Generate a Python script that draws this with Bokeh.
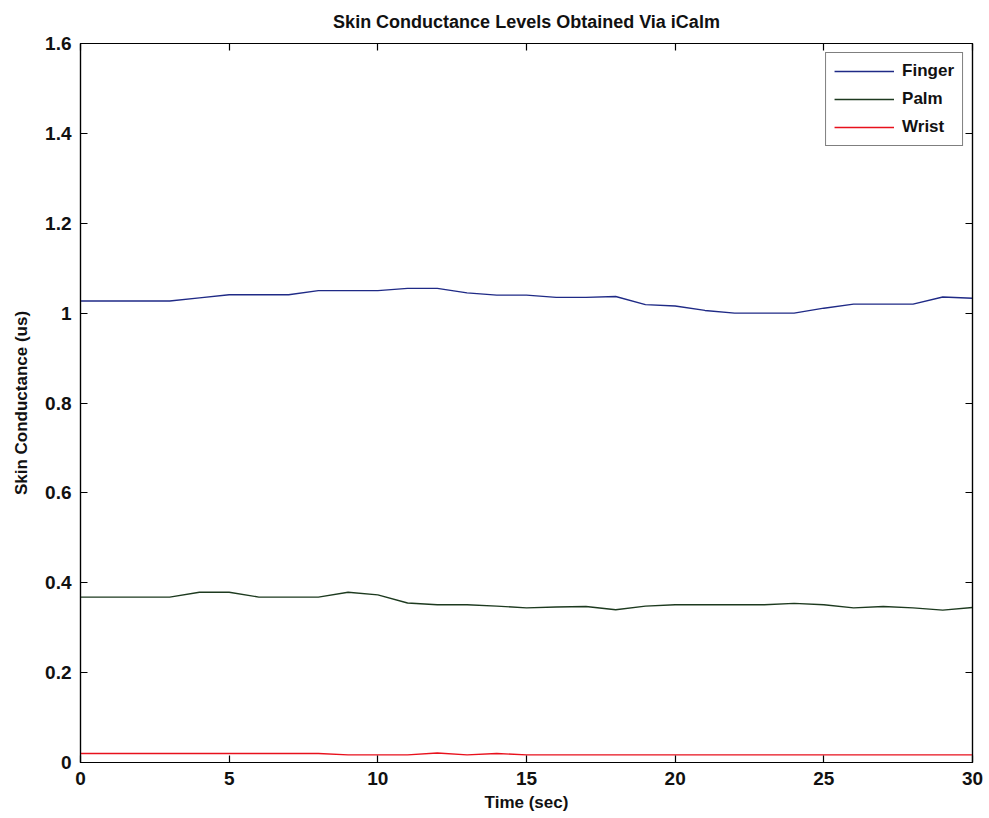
from bokeh.plotting import figure
from bokeh.models import Range1d, FixedTicker, LinearAxis, Legend, LegendItem
from bokeh.embed import file_html
from bokeh.resources import INLINE

# Skin conductance samples, one per second
time_sec = list(range(0, 31))
finger = [1.027, 1.027, 1.027, 1.027, 1.034, 1.041, 1.041, 1.041, 1.050, 1.050,
          1.050, 1.055, 1.055, 1.045, 1.040, 1.040, 1.035, 1.035, 1.037, 1.019,
          1.016, 1.006, 1.000, 1.000, 1.000, 1.011, 1.020, 1.020, 1.020, 1.036,
          1.033]
palm = [0.368, 0.368, 0.368, 0.368, 0.379, 0.379, 0.368, 0.368, 0.368, 0.379,
        0.373, 0.355, 0.351, 0.351, 0.348, 0.344, 0.346, 0.347, 0.340, 0.348,
        0.351, 0.351, 0.351, 0.351, 0.354, 0.351, 0.344, 0.347, 0.344, 0.339,
        0.345]
wrist = [0.020, 0.020, 0.020, 0.020, 0.020, 0.020, 0.020, 0.020, 0.020, 0.017,
         0.017, 0.017, 0.021, 0.017, 0.020, 0.017, 0.017, 0.017, 0.017, 0.017,
         0.017, 0.017, 0.017, 0.017, 0.017, 0.017, 0.017, 0.017, 0.017, 0.017,
         0.017]

x_ticks = [0, 5, 10, 15, 20, 25, 30]
x_tick_labels = ["0", "5", "10", "15", "20", "25", "30"]
y_ticks = [0, 0.2, 0.4, 0.6, 0.8, 1.0, 1.2, 1.4, 1.6]
y_tick_labels = ["0", "0.2", "0.4", "0.6", "0.8", "1", "1.2", "1.4", "1.6"]

FONT = "Liberation Sans"

p = figure(width=989, height=818, output_backend="svg", toolbar_location=None,
           x_range=Range1d(0, 30), y_range=Range1d(0, 1.6),
           title="Skin Conductance Levels Obtained Via iCalm")
p.min_border_left = 80
p.min_border_right = 17
p.min_border_top = 43
p.min_border_bottom = 56
p.background_fill_color = "white"
p.border_fill_color = "white"
p.outline_line_color = "black"
p.outline_line_width = 1.2
p.xgrid.visible = False
p.ygrid.visible = False

p.title.align = "center"
p.title.vertical_align = "top"
p.title.text_font = FONT
p.title.text_font_size = "18px"
p.title.text_font_style = "bold"
p.title.text_color = "#111111"
p.title.standoff = 19


def style_axis(ax, ticks, labels, show_labels=True):
    ax.ticker = FixedTicker(ticks=ticks)
    if show_labels:
        ax.major_label_overrides = {t: l for t, l in zip(ticks, labels)}
    else:
        ax.major_label_overrides = {t: "" for t in ticks}
        ax.major_label_standoff = 0
    ax.major_tick_in = 7
    ax.major_tick_out = 0
    ax.minor_tick_in = 0
    ax.minor_tick_out = 0
    ax.axis_line_color = "black"
    ax.axis_line_width = 1.2
    ax.major_tick_line_color = "black"
    ax.major_tick_line_width = 1.2
    ax.major_label_text_font = FONT
    ax.major_label_text_font_size = "19px"
    ax.major_label_text_font_style = "bold"
    ax.major_label_text_color = "#111111"
    ax.axis_label_text_font = FONT
    ax.axis_label_text_font_size = "17px"
    ax.axis_label_text_font_style = "bold"
    ax.axis_label_text_color = "#111111"


xa = p.xaxis[0]
ya = p.yaxis[0]
style_axis(xa, x_ticks, x_tick_labels)
style_axis(ya, y_ticks, y_tick_labels)
xa.axis_label = "Time (sec)"
ya.axis_label = "Skin Conductance (us)"
xa.major_label_standoff = 9
ya.major_label_standoff = 9
xa.axis_label_standoff = 5
ya.axis_label_standoff = 11

# mirrored tick marks on the top and right edges
top_ax = LinearAxis()
right_ax = LinearAxis()
style_axis(top_ax, x_ticks, x_tick_labels, show_labels=False)
style_axis(right_ax, y_ticks, y_tick_labels, show_labels=False)
p.add_layout(top_ax, "above")
p.add_layout(right_ax, "right")

r_finger = p.line(time_sec, finger, line_color="#1f2a86", line_width=1.4)
r_palm = p.line(time_sec, palm, line_color="#1d3a1f", line_width=1.4)
r_wrist = p.line(time_sec, wrist, line_color="#e8101c", line_width=1.4)

legend = Legend(items=[
    LegendItem(label="Finger", renderers=[r_finger]),
    LegendItem(label="Palm", renderers=[r_palm]),
    LegendItem(label="Wrist", renderers=[r_wrist]),
], location="top_right")
legend.label_text_font = FONT
legend.label_text_font_size = "17px"
legend.label_text_font_style = "bold"
legend.label_text_color = "#111111"
legend.glyph_width = 60
legend.glyph_height = 18
legend.label_height = 18
legend.label_standoff = 8
legend.spacing = 8
legend.padding = 8
legend.margin = 9
legend.border_line_color = "black"
legend.border_line_width = 1.2
legend.background_fill_alpha = 1.0
p.add_layout(legend, "center")

open("out.html", "w").write(file_html(p, INLINE))
